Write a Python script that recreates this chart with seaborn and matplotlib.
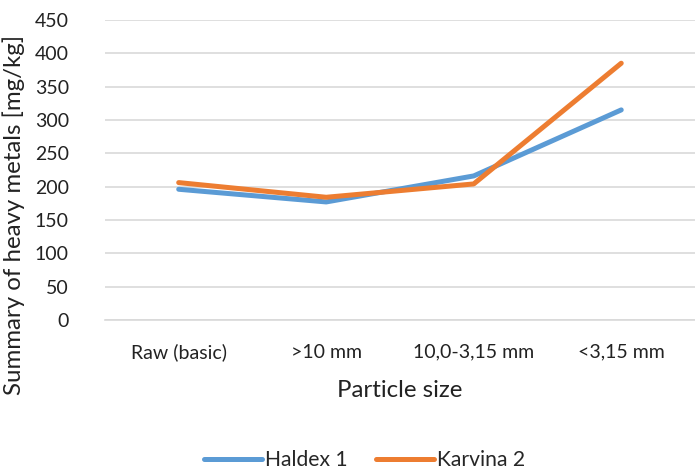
import matplotlib
matplotlib.use("Agg")
import matplotlib.pyplot as plt
import seaborn as sns
import pandas as pd

categories = ["Raw (basic)", ">10 mm", "10,0-3,15 mm", "<3,15 mm"]
haldex = [196, 177, 216, 315]
karvina = [206, 184, 204, 385]
series_names = ["Haldex 1", "Karvina 2"]
yticks = [0, 50, 100, 150, 200, 250, 300, 350, 400, 450]

df = pd.DataFrame({
    "cat": categories * 2,
    "value": haldex + karvina,
    "series": [series_names[0]] * 4 + [series_names[1]] * 4,
})

sns.set_theme(style="white")
plt.rcParams["font.family"] = ["Lato", "DejaVu Sans"]

fig = plt.figure(figsize=(6.95, 4.73), dpi=100)
ax = fig.add_axes([0.151, 0.3235, 0.849, 0.6345])

palette = {"Haldex 1": "#5B9BD5", "Karvina 2": "#ED7D31"}
sns.lineplot(data=df, x="cat", y="value", hue="series", palette=palette,
             linewidth=3.6, ax=ax, sort=False, legend=True,
             solid_capstyle="round")

ax.set_xlim(-0.5, 3.5)
ax.set_ylim(0, 450)
ax.set_yticks(yticks)
ax.set_yticklabels([str(v) for v in yticks], fontsize=14, color="#222222")
ax.tick_params(axis="x", labelsize=14, colors="#222222", pad=17, length=0)
ax.tick_params(axis="y", length=0, pad=26)
ax.grid(axis="y", color="#D9D9D9", linewidth=1.2)
ax.set_axisbelow(True)
for s in ["top", "right", "left"]:
    ax.spines[s].set_visible(False)
ax.spines["bottom"].set_color("#D9D9D9")
ax.spines["bottom"].set_linewidth(1.2)

ax.set_xlabel("Particle size", fontsize=17.3, color="#222222", labelpad=13)
ax.set_ylabel("Summary of heavy metals [mg/kg]", fontsize=17.3, color="#222222")
ax.yaxis.set_label_coords(-0.136, 0.35)

handles, labels = ax.get_legend_handles_labels()
ax.legend(handles, labels, loc="upper center", bbox_to_anchor=(0.44, -0.37),
          ncol=2, frameon=False, fontsize=15.2, handlelength=2.75,
          handletextpad=0.15, columnspacing=1.3)

fig.savefig("out.png", dpi=100)
